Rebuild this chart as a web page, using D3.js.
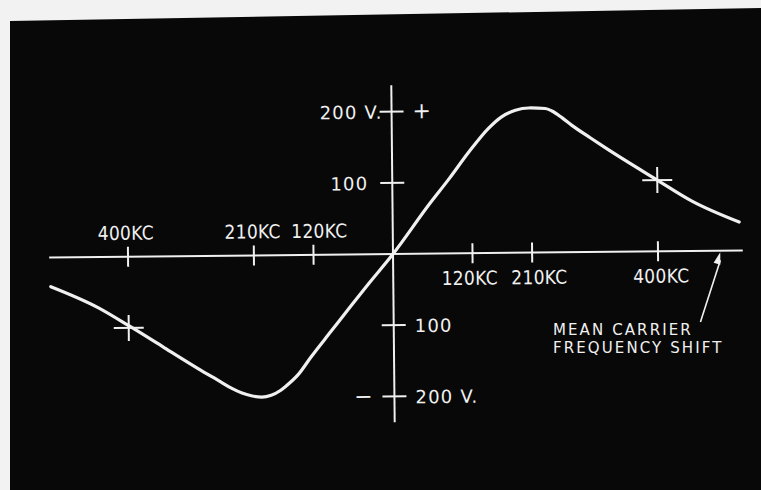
<!DOCTYPE html>
<html><head><meta charset="utf-8">
<script src="https://cdn.jsdelivr.net/npm/d3@7"></script>
<style>html,body{margin:0;padding:0;background:#f2f2f2;} svg{display:block}</style>
</head><body><svg id="c" width="761" height="490"></svg>
<script>
// ---- data ----
const kcTicks = [-400, -210, -120, 120, 210, 400];
const kcTickLabels = ["400KC", "210KC", "120KC", "120KC", "210KC", "400KC"];
const voltTicks = [200, 100, -100, -200];
const voltTickLabels = ["200 V.", "100", "100", "200 V."];
const curveKC = [-517, -446, -398, -347, -296, -262, -246, -230, -216, -200, -186, -172, -165, -145, -125, -95, -65, -37, 0,
                 56, 86, 116, 146, 166, 187, 207, 232, 242, 257, 272, 300, 323, 400, 452, 523];
const curveV  = [-41, -71, -98, -128, -158, -177, -186, -193, -197, -199, -196.5, -190, -185, -168, -143, -108, -73, -41, 0,
                 70, 105, 142, 175, 191, 200, 203, 202, 198.5, 189, 178, 160, 145.5, 100, 70, 40];
const markerKC = [-400, 400];
const markerV = [-100, 100];
const noteLines = ["MEAN CARRIER", "FREQUENCY SHIFT"];

// ---- drawing ----
const W = 761, H = 490;
const ink = "#f0f0f0";
const svg = d3.select("#c");
svg.append("rect").attr("width", W).attr("height", H).attr("fill", "#f2f2f2");
svg.append("polygon").attr("points", "10,21 761,8 761,490 10,490").attr("fill", "#080808");

const x = d3.scaleLinear().domain([-400, 400]).range([128, 658]);
const y = d3.scaleLinear().domain([-200, 200]).range([396.5, 111.5]);
const x0 = x(0), y0 = y(0);

const g = svg.append("g").attr("transform", `rotate(-0.58,${x0},${y0})`);

// axes
g.append("line").attr("x1", x(-519)).attr("x2", x(528)).attr("y1", y0).attr("y2", y0)
  .attr("stroke", ink).attr("stroke-width", 2);
g.append("line").attr("x1", x0).attr("x2", x0).attr("y1", y(237)).attr("y2", y(-236))
  .attr("stroke", ink).attr("stroke-width", 2);

// x ticks
const labelNudge = k => ({"-400": -2, "-210": -1, "-120": 6, "120": -3, "210": 7, "400": 3})[k] || 0;
g.selectAll(".xt").data(kcTicks).join("line")
  .attr("x1", d => x(d)).attr("x2", d => x(d)).attr("y1", y0 - 10).attr("y2", y0 + 10)
  .attr("stroke", ink).attr("stroke-width", 2);
g.selectAll(".xl").data(kcTicks).join("text")
  .attr("x", d => x(d) + labelNudge(d)).attr("y", d => d < 0 ? y0 - 17 : y0 + 31.5)
  .attr("text-anchor", "middle").attr("fill", ink)
  .style("font-family", "DejaVu Sans Condensed, DejaVu Sans").style("font-stretch", "condensed")
  .style("font-size", "19px").style("letter-spacing", "0.3px")
  .text((d, i) => kcTickLabels[i]);

// y ticks
g.selectAll(".yt").data(voltTicks).join("line")
  .attr("x1", x0 - 12).attr("x2", x0 + 12).attr("y1", d => y(d)).attr("y2", d => y(d))
  .attr("stroke", ink).attr("stroke-width", 2);
g.selectAll(".yl").data(voltTicks).join("text")
  .attr("x", d => d > 0 ? x0 - (d === 200 ? 9 : 24) : x0 + 21)
  .attr("y", d => y(d) + 7)
  .attr("text-anchor", d => d > 0 ? "end" : "start").attr("fill", ink)
  .style("font-family", "DejaVu Sans").style("font-size", "18px").style("letter-spacing", "1.2px")
  .text((d, i) => voltTickLabels[i]);

// polarity signs
g.append("text").attr("x", x0 + 30).attr("y", y(200) + 7).attr("text-anchor", "middle")
  .attr("fill", ink).style("font-family", "DejaVu Sans").style("font-size", "22px").text("+");
g.append("text").attr("x", x0 - 31).attr("y", y(-200) + 7).attr("text-anchor", "middle")
  .attr("fill", ink).style("font-family", "DejaVu Sans").style("font-size", "22px").text("−");

// curve
const pts = curveKC.map((k, i) => [k, curveV[i]]);
g.append("path").datum(pts)
  .attr("d", d3.line().x(d => x(d[0])).y(d => y(d[1])).curve(d3.curveMonotoneX))
  .attr("fill", "none").attr("stroke", ink).attr("stroke-width", 3.2).attr("stroke-linecap", "round");

// crosses
const mk = markerKC.map((k, i) => [k, markerV[i]]);
g.selectAll(".mh").data(mk).join("line")
  .attr("x1", d => x(d[0]) - 15).attr("x2", d => x(d[0]) + 15).attr("y1", d => y(d[1])).attr("y2", d => y(d[1]))
  .attr("stroke", ink).attr("stroke-width", 2);
g.selectAll(".mv").data(mk).join("line")
  .attr("x1", d => x(d[0])).attr("x2", d => x(d[0])).attr("y1", d => y(d[1]) - 13).attr("y2", d => y(d[1]) + 13)
  .attr("stroke", ink).attr("stroke-width", 2);

// annotation arrow
const tipX = x(494), tipY = y0 + 1.5, tailX = x(463), tailY = y0 + 71;
g.append("line").attr("x1", tailX).attr("y1", tailY).attr("x2", tipX).attr("y2", tipY + 8)
  .attr("stroke", ink).attr("stroke-width", 1.6);
const ang = Math.atan2(tipY - tailY, tipX - tailX);
const hl = 12, hw = 3.5;
const bx = tipX - hl * Math.cos(ang), by = tipY - hl * Math.sin(ang);
g.append("path")
  .attr("d", `M${tipX},${tipY} L${bx - hw * Math.sin(ang)},${by + hw * Math.cos(ang)} L${bx + hw * Math.sin(ang)},${by - hw * Math.cos(ang)} Z`)
  .attr("fill", ink);

// annotation text (outside the tilted group; the tilt is negligible over its width)
svg.selectAll(".note").data(noteLines).join("text")
  .attr("x", x0 + 160).attr("y", (d, i) => y0 + 80.5 + i * 18)
  .attr("fill", ink).style("font-family", "DejaVu Sans").style("font-size", "15px").style("letter-spacing", "2.1px")
  .text(d => d);
</script>
</body></html>
